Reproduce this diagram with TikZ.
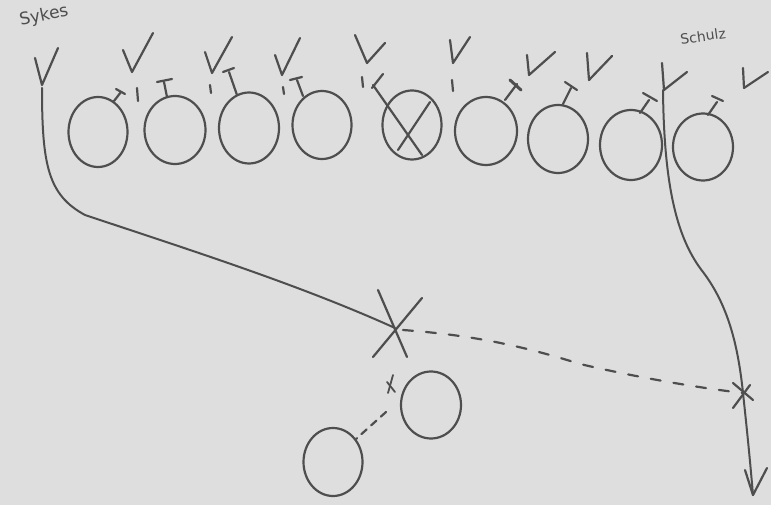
\documentclass[tikz,border=0pt]{standalone}
\usepackage{fontspec}
\setsansfont{DejaVu Sans}
\usetikzlibrary{shapes.geometric}
\definecolor{paper}{RGB}{222,222,222}
\definecolor{ink}{RGB}{78,78,78}
\begin{document}
\begin{tikzpicture}[x=1pt,y=-1pt,
  pen/.style={draw=ink,line width=2.2pt,line cap=round,line join=round},
  player/.style={pen,shape=ellipse,inner sep=0pt,minimum width=60pt,minimum height=68pt},
  routepen/.style={pen,line width=2pt},
  dashpen/.style={pen,line width=2.2pt,dash pattern=on 10pt off 13pt},
  lbl/.style={text=ink,inner sep=0pt}]
\fill[paper] (0,0) rectangle (771,505);
\useasboundingbox (0,0) rectangle (771,505);

% offensive line
\node[player,minimum width=59pt,minimum height=70pt] (c1) at (98,132) {};
\node[player,minimum width=61pt,minimum height=68pt] (c2) at (175,130) {};
\node[player,minimum width=60pt,minimum height=71pt] (c3) at (249,128) {};
\node[player,minimum width=59pt,minimum height=68pt] (c4) at (322,125) {};
\node[player,minimum width=59pt,minimum height=69pt] (c5) at (412,125) {};
\node[player,minimum width=62pt,minimum height=68pt] (c6) at (486,131) {};
\node[player,minimum width=60pt,minimum height=68pt] (c7) at (558,139) {};
\node[player,minimum width=62pt,minimum height=70pt] (c8) at (631,145) {};
\node[player,minimum width=60pt,minimum height=67pt] (c9) at (703,147) {};
% backfield
\node[player,minimum width=60pt,minimum height=67pt] (ca) at (431,405) {};
\node[player,minimum width=59pt,minimum height=68pt] (cb) at (333,462) {};

% X through the centre
\draw[pen] (373,85) -- (422,155);
\draw[pen] (430,102) -- (398,150);
\draw[pen] (372,88) -- (383,74);

% defenders (V marks)
\draw[pen] (35,58) -- (42,85) -- (58,48);
\draw[pen] (123,50) -- (132,72) -- (153,33);
\draw[pen] (205,52) -- (212,73) -- (232,37);
\draw[pen] (275,55) -- (282,75) -- (300,38);
\draw[pen] (355,35) -- (367,63) -- (385,43);
\draw[pen] (450,40) -- (453,63) -- (470,37);
\draw[pen] (527,55) -- (529,75) -- (555,52);
\draw[pen] (587,53) -- (589,80) -- (612,56);
\draw[pen] (662,63) -- (664,90) -- (687,72);
\draw[pen] (743,68) -- (744,88) -- (768,72);

% ticks
\draw[pen] (137,88) -- (138,101);
\draw[pen] (210,85) -- (211,93);
\draw[pen] (283,87) -- (284,94);
\draw[pen] (362,77) -- (363,87);
\draw[pen] (452,80) -- (453,91);

% blocking marks
\draw[pen] (114,101) -- (121,92);  \draw[pen] (116,89) -- (125,94);
\draw[pen] (167,97) -- (164,82);   \draw[pen] (157,82) -- (172,79);
\draw[pen] (237,95) -- (229,72);   \draw[pen] (223,72) -- (234,68);
\draw[pen] (303,96) -- (297,80);   \draw[pen] (290,80) -- (302,77);
\draw[pen] (505,100) -- (517,84);  \draw[pen,line width=3pt] (510,80) -- (521,90);
\draw[pen] (563,104) -- (571,88);  \draw[pen] (565,82) -- (577,90);
\draw[pen] (640,113) -- (649,100); \draw[pen] (643,93) -- (657,101);
\draw[pen] (708,115) -- (717,102); \draw[pen] (712,96) -- (723,101);

% named points
\coordinate (v1b) at (42,88);
\coordinate (v9b) at (663,90);
\coordinate (x1) at (395,328);
\coordinate (x2) at (743,393);
\coordinate (xs) at (390,385);
\coordinate (tip) at (753,495);

% Sykes route
\draw[routepen] (v1b) .. controls (42,165) and (48,195) .. (85,215)
   .. controls (190,250) and (300,285) .. (x1);
% big X
\draw[pen] (378,290) -- (407,357);
\draw[pen] (422,298) -- (373,357);

% Schulz route
\draw[routepen] (v9b) .. controls (664,190) and (678,240) .. (703,272)
   .. controls (728,305) and (738,345) .. (x2)
   .. controls (747,430) and (750,460) .. (tip);
\draw[pen] (745,470) -- (tip) -- (767,468);
% right X
\draw[pen] (733,383) -- (753,400);
\draw[pen] (750,385) -- (733,408);

% dashed path
\draw[dashpen] (x1) ++(8,2) .. controls (470,335) and (520,345) .. (580,364)
   .. controls (640,378) and (700,388) .. (x2);

% small x and dashes
\draw[pen,line width=1.8pt] (387,382) -- (395,392);
\draw[pen,line width=1.8pt] (393,375) -- (388,393);
\draw[pen,dash pattern=on 7pt off 6pt] (386,412) -- (cb.45);

% labels
\node[lbl,rotate=12,font=\sffamily\fontsize{17}{17}\selectfont] (sykes) at (44,16) {Sykes};
\node[lbl,rotate=8,font=\sffamily\fontsize{14}{14}\selectfont] (schulz) at (703,36) {Schulz};
\end{tikzpicture}
\end{document}
